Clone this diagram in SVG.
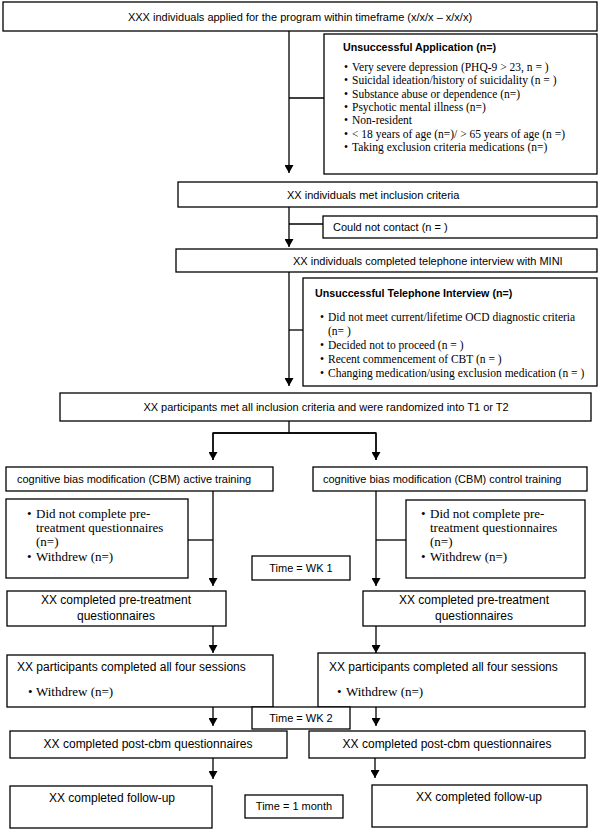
<svg xmlns="http://www.w3.org/2000/svg" width="600" height="831" viewBox="0 0 600 831">
<style>
rect{fill:#fff;stroke:#000;stroke-width:1.3}
.c line,.c polyline{stroke:#000;stroke-width:1.3;fill:none}
.s{font-family:"Liberation Sans",Arial,sans-serif;font-size:11px;fill:#000}
.m{font-family:"Liberation Sans",Arial,sans-serif;font-size:12px;fill:#000}
.b{font-family:"Liberation Sans",Arial,sans-serif;font-size:10.7px;font-weight:bold;fill:#000}
.r{font-family:"Liberation Serif","Times New Roman",serif;font-size:11.5px;fill:#000}
.R{font-family:"Liberation Serif","Times New Roman",serif;font-size:13px;fill:#000}
.mid{text-anchor:middle}
</style>
<defs>
<marker id="arr" markerUnits="userSpaceOnUse" markerWidth="8" markerHeight="9" refX="8" refY="4.5" orient="auto">
<path d="M0,0 L8,4.5 L0,9 z" fill="#000"/>
</marker>
</defs>
<g id="connectors" class="c">
<line x1="289" y1="31" x2="289" y2="173" marker-end="url(#arr)"/>
<line x1="289" y1="98" x2="324" y2="98"/>
<line x1="289" y1="207" x2="289" y2="247" marker-end="url(#arr)"/>
<line x1="289" y1="224" x2="323" y2="224"/>
<line x1="289" y1="272" x2="289" y2="386" marker-end="url(#arr)"/>
<line x1="289" y1="330" x2="303" y2="330"/>
<line x1="289" y1="421" x2="289" y2="433"/>
<polyline points="213,460 213,433 376,433 376,460" stroke="none"/>
<line x1="289" y1="433" x2="213" y2="433"/>
<line x1="289" y1="433" x2="376" y2="433"/>
<line x1="213" y1="433" x2="213" y2="460" marker-end="url(#arr)"/>
<line x1="376" y1="433" x2="376" y2="460" marker-end="url(#arr)"/>
<line x1="213" y1="491" x2="213" y2="586" marker-end="url(#arr)"/>
<line x1="188" y1="540" x2="213" y2="540"/>
<line x1="376" y1="491" x2="376" y2="586" marker-end="url(#arr)"/>
<line x1="376" y1="540" x2="406" y2="540"/>
<line x1="213" y1="626" x2="213" y2="653" marker-end="url(#arr)"/>
<line x1="376" y1="626" x2="376" y2="653" marker-end="url(#arr)"/>
<line x1="213" y1="707" x2="213" y2="726" marker-end="url(#arr)"/>
<line x1="376" y1="707" x2="376" y2="726" marker-end="url(#arr)"/>
<line x1="213" y1="758" x2="213" y2="779" marker-end="url(#arr)"/>
<line x1="375" y1="758" x2="375" y2="778" marker-end="url(#arr)"/>
</g>
<g id="applied">
<rect x="3" y="2" width="594" height="29"/>
<text class="s mid" x="300" y="21">XXX individuals applied for the program within timeframe (x/x/x – x/x/x)</text>
</g>
<g id="unsuccessful-application">
<rect x="324" y="34" width="273" height="140"/>
<text class="b" x="343" y="51">Unsuccessful Application (n=)</text>
<g class="r">
<text x="344" y="71">•</text><text x="352" y="71">Very severe depression (PHQ-9 &gt; 23, n = )</text>
<text x="344" y="84.3">•</text><text x="352" y="84.3">Suicidal ideation/history of suicidality (n = )</text>
<text x="344" y="97.7">•</text><text x="352" y="97.7">Substance abuse or dependence (n=)</text>
<text x="344" y="111">•</text><text x="352" y="111">Psychotic mental illness (n=)</text>
<text x="344" y="124.3">•</text><text x="352" y="124.3">Non-resident</text>
<text x="344" y="137.7">•</text><text x="352" y="137.7">&lt; 18 years of age (n=)/ &gt; 65 years of age (n =)</text>
<text x="344" y="151">•</text><text x="352" y="151">Taking exclusion criteria medications (n=)</text>
</g>
</g>
<g id="inclusion">
<rect x="178" y="182" width="419" height="25"/>
<text class="s" x="287" y="199">XX individuals met inclusion criteria</text>
</g>
<g id="could-not-contact">
<rect x="323" y="216" width="274" height="22"/>
<text class="s" x="333" y="231">Could not contact (n = )</text>
</g>
<g id="telephone">
<rect x="176" y="249" width="421" height="23"/>
<text class="s" x="293" y="265">XX individuals completed telephone interview with MINI</text>
</g>
<g id="unsuccessful-telephone">
<rect x="303" y="278" width="294" height="108"/>
<text class="b" x="315" y="297">Unsuccessful Telephone Interview (n=)</text>
<g class="r">
<text x="320" y="321">•</text><text x="328" y="321">Did not meet current/lifetime OCD diagnostic criteria</text>
<text x="328" y="335">(n= )</text>
<text x="320" y="349">•</text><text x="328" y="349">Decided not to proceed (n = )</text>
<text x="320" y="363">•</text><text x="328" y="363">Recent commencement of CBT (n = )</text>
<text x="320" y="377">•</text><text x="328" y="377">Changing medication/using exclusion medication (n = )</text>
</g>
</g>
<g id="randomized">
<rect x="60" y="393" width="531" height="28"/>
<text class="s mid" x="326" y="411">XX participants met all inclusion criteria and were randomized into T1 or T2</text>
</g>
<g id="cbm-active">
<rect x="6" y="467" width="267" height="24"/>
<text class="s" x="17" y="483">cognitive bias modification (CBM) active training</text>
</g>
<g id="cbm-control">
<rect x="313" y="467" width="274" height="24"/>
<text class="s" x="323" y="483">cognitive bias modification (CBM) control training</text>
</g>
<g id="excluded-active">
<rect x="6" y="499" width="182" height="79"/>
<g class="R">
<text x="27" y="518">•</text><text x="36" y="518">Did not complete pre-</text>
<text x="36" y="532">treatment questionnaires</text>
<text x="36" y="546">(n=)</text>
<text x="27" y="561">•</text><text x="36" y="561">Withdrew (n=)</text>
</g>
</g>
<g id="excluded-control">
<rect x="406" y="500" width="179" height="78"/>
<g class="R">
<text x="421" y="518">•</text><text x="430" y="518">Did not complete pre-</text>
<text x="430" y="532">treatment questionnaires</text>
<text x="430" y="546">(n=)</text>
<text x="421" y="561">•</text><text x="430" y="561">Withdrew (n=)</text>
</g>
</g>
<g id="time-wk1">
<rect x="252" y="556" width="98" height="24"/>
<text class="s mid" x="301" y="572">Time = WK 1</text>
</g>
<g id="pre-active">
<rect x="7" y="591" width="219" height="35"/>
<text class="m mid" x="116" y="604">XX completed pre-treatment</text>
<text class="m mid" x="116" y="620">questionnaires</text>
</g>
<g id="pre-control">
<rect x="363" y="591" width="222" height="35"/>
<text class="m mid" x="474" y="604">XX completed pre-treatment</text>
<text class="m mid" x="474" y="620">questionnaires</text>
</g>
<g id="sessions-active">
<rect x="7" y="655" width="266" height="52"/>
<text class="m" x="17" y="671">XX participants completed all four sessions</text>
<g class="R"><text x="28" y="696">•</text><text x="36" y="696">Withdrew (n=)</text></g>
</g>
<g id="sessions-control">
<rect x="318" y="653" width="267" height="54"/>
<text class="m" x="329" y="671">XX participants completed all four sessions</text>
<g class="R"><text x="337" y="696">•</text><text x="346" y="696">Withdrew (n=)</text></g>
</g>
<g id="time-wk2">
<rect x="252" y="707" width="98" height="22"/>
<text class="s mid" x="301" y="722">Time = WK 2</text>
</g>
<g id="post-active">
<rect x="10" y="731" width="277" height="27"/>
<text class="m mid" x="148" y="748">XX completed post-cbm questionnaires</text>
</g>
<g id="post-control">
<rect x="309" y="731" width="276" height="27"/>
<text class="m mid" x="447" y="748">XX completed post-cbm questionnaires</text>
</g>
<g id="follow-active">
<rect x="10" y="786" width="202" height="42"/>
<text class="m mid" x="112" y="802">XX completed follow-up</text>
</g>
<g id="time-month">
<rect x="245" y="795" width="98" height="23"/>
<text class="s mid" x="294" y="810">Time = 1 month</text>
</g>
<g id="follow-control">
<rect x="372" y="785" width="215" height="42"/>
<text class="m mid" x="479" y="801">XX completed follow-up</text>
</g>
</svg>
